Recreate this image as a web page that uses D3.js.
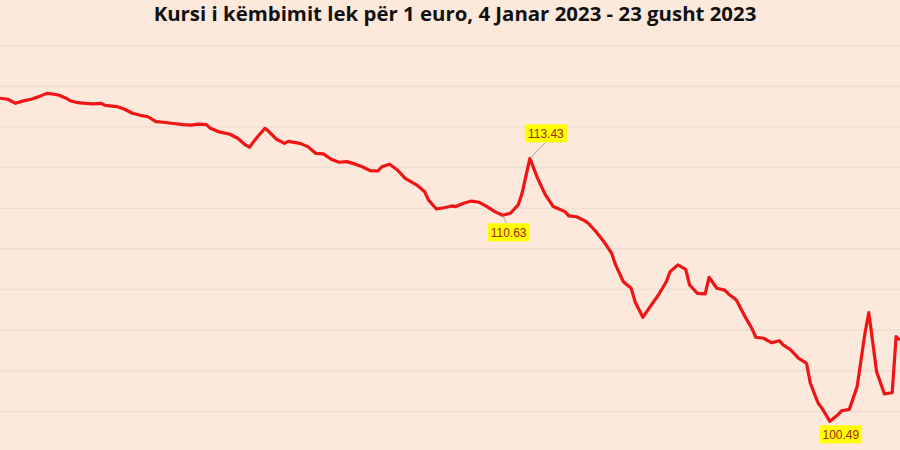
<!DOCTYPE html>
<html>
<head>
<meta charset="utf-8">
<script src="https://cdn.jsdelivr.net/npm/d3@7"></script>
<style>
  html, body { margin: 0; padding: 0; background: #fce9dc; }
  svg { display: block; }
</style>
</head>
<body>
<svg id="chart" width="900" height="450"></svg>
<script>
const titleText = "Kursi i këmbimit lek për 1 euro, 4 Janar 2023 - 23 gusht 2023";

const dates = [
  "2023-01-04","2023-01-06","2023-01-08","2023-01-10","2023-01-12","2023-01-14","2023-01-16","2023-01-17",
  "2023-01-19","2023-01-21","2023-01-22","2023-01-24","2023-01-26","2023-01-28","2023-01-30","2023-01-31",
  "2023-02-03","2023-02-05","2023-02-07","2023-02-09","2023-02-11","2023-02-13","2023-02-15","2023-02-17",
  "2023-02-20","2023-02-22","2023-02-24","2023-02-26","2023-02-27","2023-03-01","2023-03-04","2023-03-06",
  "2023-03-08","2023-03-09","2023-03-11","2023-03-13","2023-03-14","2023-03-16","2023-03-18","2023-03-19",
  "2023-03-22","2023-03-24","2023-03-26","2023-03-28","2023-03-30","2023-04-01","2023-04-03","2023-04-05",
  "2023-04-07","2023-04-09","2023-04-11","2023-04-12","2023-04-14","2023-04-16","2023-04-18","2023-04-21",
  "2023-04-23","2023-04-24","2023-04-26","2023-04-28","2023-04-30","2023-05-01","2023-05-03","2023-05-05",
  "2023-05-07","2023-05-09","2023-05-11","2023-05-13","2023-05-15","2023-05-17","2023-05-18","2023-05-20",
  "2023-05-22","2023-05-24","2023-05-26","2023-05-29","2023-05-30","2023-06-01","2023-06-03","2023-06-04",
  "2023-06-06","2023-06-07","2023-06-08","2023-06-10","2023-06-11","2023-06-13","2023-06-15","2023-06-16",
  "2023-06-18","2023-06-20","2023-06-22","2023-06-24","2023-06-25","2023-06-27","2023-06-29","2023-06-30",
  "2023-07-02","2023-07-04","2023-07-05","2023-07-07","2023-07-09","2023-07-10","2023-07-12","2023-07-14",
  "2023-07-16","2023-07-17","2023-07-19","2023-07-21","2023-07-23","2023-07-24","2023-07-26","2023-07-28",
  "2023-07-30","2023-07-31","2023-08-02","2023-08-03","2023-08-05","2023-08-07","2023-08-08","2023-08-10",
  "2023-08-12","2023-08-14","2023-08-15","2023-08-17","2023-08-19","2023-08-21","2023-08-22","2023-08-23"
];

const rates = [
  116.39,116.34,116.14,116.26,116.34,116.47,116.63,116.61,
  116.55,116.39,116.27,116.17,116.14,116.11,116.14,116.04,
  115.98,115.85,115.65,115.55,115.48,115.24,115.21,115.16,
  115.09,115.07,115.12,115.09,114.91,114.75,114.62,114.42,
  114.09,113.98,114.47,114.91,114.75,114.37,114.17,114.27,
  114.17,114.01,113.68,113.65,113.39,113.24,113.27,113.16,
  113.02,112.83,112.81,113.02,113.14,112.86,112.45,112.12,
  111.79,111.38,110.94,111.00,111.09,111.06,111.22,111.33,
  111.27,111.06,110.81,110.63,110.73,111.14,111.71,113.43,
  112.45,111.63,111.06,110.81,110.60,110.56,110.37,110.24,
  109.82,109.58,109.33,108.76,108.19,107.36,107.04,106.38,
  105.61,106.17,106.71,107.36,107.86,108.19,107.97,107.20,
  106.79,106.76,107.58,107.04,106.95,106.76,106.46,105.72,
  105.06,104.63,104.58,104.36,104.46,104.25,104.00,103.59,
  103.35,102.36,101.38,101.13,100.49,100.80,101.01,101.08,
  102.20,104.82,105.84,102.93,101.84,101.90,104.66,104.49
];

const gridValues = [101, 103, 105, 107, 109, 111, 113, 115, 117, 119];

const annotations = [
  { date: "2023-05-13", label: "110.63", dx: 6, dy: 17, leader: true },
  { date: "2023-05-20", label: "113.43", dx: 16, dy: -25, leader: true },
  { date: "2023-08-05", label: "100.49", dx: 11, dy: 13, leader: false }
];

const parse = d3.timeParse("%Y-%m-%d");
const data = dates.map((d, i) => ({ date: parse(d), value: rates[i] }));

const W = 900, H = 450;
const svg = d3.select("#chart");

svg.append("rect").attr("width", W).attr("height", H).attr("fill", "#fce9dc");

const x = d3.scaleTime()
  .domain([parse(dates[0]), parse(dates[dates.length - 1])])
  .range([0, 900]);

const y = d3.scaleLinear().domain([101, 119]).range([411, 45.2]);

// gridlines
const grid = svg.append("g").attr("class", "grid")
  .call(d3.axisLeft(y).tickValues(gridValues).tickSize(-W).tickFormat(""));
grid.select(".domain").remove();
grid.selectAll(".tick line")
  .attr("x1", 0).attr("x2", W)
  .attr("stroke", "#ecdfd6").attr("stroke-width", 1.6);

// title
svg.append("text")
  .attr("x", 455).attr("y", 21)
  .attr("text-anchor", "middle")
  .attr("font-family", "'Open Sans', sans-serif")
  .attr("font-weight", "bold")
  .attr("font-size", 20.4)
  .attr("fill", "#111")
  .text(titleText);

// line
const line = d3.line().x(d => x(d.date)).y(d => y(d.value));
svg.append("path").datum(data)
  .attr("d", line)
  .attr("fill", "none")
  .attr("stroke", "#f01414")
  .attr("stroke-width", 3.2)
  .attr("stroke-linejoin", "round");

// annotations
const valueAt = ds => data.find(d => +d.date === +parse(ds));
annotations.forEach(a => {
  const pt = valueAt(a.date);
  const px = x(pt.date), py = y(pt.value);
  const cx = px + a.dx, cy = py + a.dy;
  const bw = 42, bh = 18;
  if (a.leader) {
    const ey = a.dy < 0 ? cy + bh / 2 : cy - bh / 2;
    svg.append("line")
      .attr("x1", px).attr("y1", py)
      .attr("x2", a.dy < 0 ? cx : cx - 2).attr("y2", ey)
      .attr("stroke", "#a6a6a6").attr("stroke-width", 1);
  }
  svg.append("rect")
    .attr("x", cx - bw / 2).attr("y", cy - bh / 2)
    .attr("width", bw).attr("height", bh)
    .attr("fill", "#ffff00");
  svg.append("text")
    .attr("x", cx).attr("y", cy + 4.5)
    .attr("text-anchor", "middle")
    .attr("font-family", "'Liberation Sans', sans-serif")
    .attr("font-size", 12)
    .attr("fill", "#a8231a")
    .text(a.label);
});
</script>
</body>
</html>
